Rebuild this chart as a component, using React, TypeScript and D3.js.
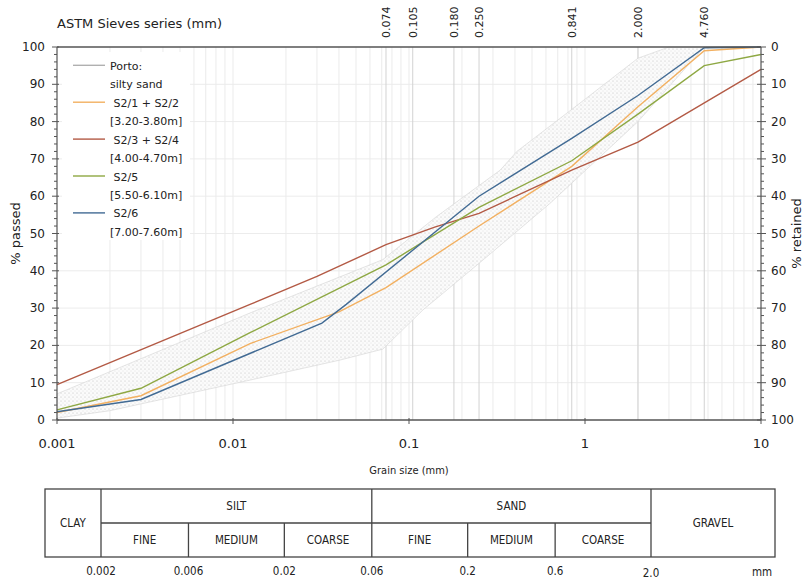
import React from "react";
import * as d3 from "d3";

// ---------- data ----------
const sieveSizes = [0.074, 0.105, 0.18, 0.25, 0.841, 2.0, 4.76];
const sieveLabels = ["0.074", "0.105", "0.180", "0.250", "0.841", "2.000", "4.760"];
const xTickValues = [0.001, 0.01, 0.1, 1, 10];
const xTickLabels = ["0.001", "0.01", "0.1", "1", "10"];
const yTickValues = [0, 10, 20, 30, 40, 50, 60, 70, 80, 90, 100];

const s21Sizes = [0.001, 0.003, 0.0125, 0.04, 0.074, 0.25, 0.841, 2.0, 4.76, 10];
const s21Passed = [2, 6.5, 20.5, 29, 35.5, 52, 68, 84, 99, 100];

const s23Sizes = [0.001, 0.0125, 0.03, 0.074, 0.14, 0.25, 0.841, 2.0, 10];
const s23Passed = [9.5, 31, 38.5, 47, 51.7, 55.4, 67, 74.5, 94];

const s25Sizes = [0.001, 0.003, 0.0125, 0.074, 0.25, 0.841, 2.0, 4.76, 10];
const s25Passed = [2.7, 8.5, 23.4, 41.6, 57, 69.5, 82, 95, 98];

const s26Sizes = [0.001, 0.003, 0.032, 0.044, 0.25, 0.841, 2.0, 4.76, 10];
const s26Passed = [2.2, 5.5, 26, 31, 60, 75.5, 87, 99.8, 100];

const portoUpperSizes = [0.001, 0.0125, 0.071, 0.143, 0.33, 0.41, 1, 2, 3, 10];
const portoUpperPassed = [7, 28.7, 43, 54.5, 67, 72, 86, 97, 100, 100];
const portoLowerSizes = [0.001, 0.002, 0.0125, 0.04, 0.071, 0.12, 0.25, 0.63, 2, 4.76, 10];
const portoLowerPassed = [0.5, 2.5, 10.7, 16, 19, 29.5, 42, 58, 80, 100, 100];

const legendLabels = [
  ["Porto:", "silty sand"],
  [" S2/1 + S2/2", "[3.20-3.80m]"],
  [" S2/3 + S2/4", "[4.00-4.70m]"],
  [" S2/5", "[5.50-6.10m]"],
  [" S2/6", "[7.00-7.60m]"],
];
const seriesColors = ["#b0b0b0", "#f2b061", "#b35a45", "#8ea843", "#426b94"];

const tableBounds = [0.002, 0.006, 0.02, 0.06, 0.2, 0.6, 2.0];
const tableBoundLabels = ["0.002", "0.006", "0.02", "0.06", "0.2", "0.6", "2.0"];
const subLabels = ["FINE", "MEDIUM", "COARSE", "FINE", "MEDIUM", "COARSE"];

// ---------- layout ----------
const W = 808;
const H = 580;
const X0 = 57, X1 = 761, Y0 = 420, Y1 = 47;
const FONT = "'DejaVu Sans', Verdana, sans-serif";
const FONT_C = "'DejaVu Sans Condensed', 'Liberation Sans Narrow', 'DejaVu Sans', sans-serif";

export default function App() {
  const x = d3.scaleLog().domain([0.001, 10]).range([X0, X1]);
  const y = d3.scaleLinear().domain([0, 100]).range([Y0, Y1]);
  const xt = d3.scaleLog().domain([0.002, 2]).range([101, 651]);

  const line = d3
    .line<[number, number]>()
    .x((d) => x(d[0]))
    .y((d) => y(d[1]));

  const zip = (a: number[], b: number[]) => a.map((v, i) => [v, b[i]] as [number, number]);
  const series = [
    zip(s21Sizes, s21Passed),
    zip(s23Sizes, s23Passed),
    zip(s25Sizes, s25Passed),
    zip(s26Sizes, s26Passed),
  ];
  const upper = zip(portoUpperSizes, portoUpperPassed);
  const lower = zip(portoLowerSizes, portoLowerPassed);
  const band = line([...upper, ...lower.slice().reverse()]) + "Z";

  const minor: number[] = [];
  for (let e = -3; e < 1; e++) {
    for (let m = 1; m <= 9; m++) {
      const v = m * Math.pow(10, e);
      if (v > 0.001 && v < 10) minor.push(v);
    }
  }
  const minorY = d3.range(0, 101, 2);

  const tTop = 489, tMid = 523, tBot = 557, tL = 45, tR = 775;

  return (
    <svg
      width={W}
      height={H}
      style={{ position: "absolute", left: 0, top: 0, display: "block", background: "#fff" }}
    >
      <defs>
        <pattern id="stip" width="4" height="4" patternUnits="userSpaceOnUse">
          <rect width="4" height="4" fill="#fbfbfb" />
          <circle cx="1" cy="1" r="0.5" fill="#b4b4b4" />
          <circle cx="3" cy="3" r="0.45" fill="#c8c8c8" />
        </pattern>
      </defs>

      <text x={57} y={28} fontFamily={FONT} fontSize={13} fill="#222">
        ASTM Sieves series (mm)
      </text>

      {yTickValues.slice(1, -1).map((v) => (
        <line key={"hg" + v} x1={X0} x2={X1} y1={y(v)} y2={y(v)} stroke="#ececec" strokeWidth={1} />
      ))}
      {minor.map((v, i) => (
        <line key={"vg" + i} x1={x(v)} x2={x(v)} y1={Y1} y2={Y0} stroke="#ebebeb" strokeWidth={1} />
      ))}
      {sieveSizes.map((v, i) => (
        <line key={"sv" + i} x1={x(v)} x2={x(v)} y1={Y1} y2={Y0} stroke="#d2d2d2" strokeWidth={1} />
      ))}

      <path d={band} fill="url(#stip)" stroke="#d4d4d4" strokeWidth={0.6} />

      {series.map((s, i) => (
        <path key={"s" + i} d={line(s) || ""} fill="none" stroke={seriesColors[i + 1]} strokeWidth={1.4} />
      ))}

      <rect x={62} y={52} width={128} height={188} fill="#fff" />
      {legendLabels.map((lab, i) => {
        const cy = 65.3 + i * 36.9;
        return (
          <g key={"lg" + i}>
            <line x1={73} x2={105} y1={cy} y2={cy} stroke={seriesColors[i]} strokeWidth={1.4} />
            <text x={110} y={cy + 4.5} fontFamily={FONT} fontSize={11} fill="#222" style={{ whiteSpace: "pre" }}>
              {lab[0]}
            </text>
            <text x={110} y={cy + 18.4 + 4.5} fontFamily={FONT} fontSize={11} fill="#222">
              {lab[1]}
            </text>
          </g>
        );
      })}

      <line x1={X0} x2={X1} y1={Y1} y2={Y1} stroke="#555" strokeWidth={1.5} />
      <line x1={X0} x2={X1} y1={Y0} y2={Y0} stroke="#555" strokeWidth={1.5} />
      <line x1={X0} x2={X0} y1={Y1} y2={Y0} stroke="#555" strokeWidth={1.2} />
      <line x1={X1} x2={X1} y1={Y1} y2={Y0} stroke="#555" strokeWidth={1.2} />

      {minorY.map((v) => (
        <line
          key={"lt" + v}
          x1={v % 10 === 0 ? X0 - 5 : X0 - 3}
          x2={v % 10 === 0 ? X0 + 2 : X0}
          y1={y(v)}
          y2={y(v)}
          stroke="#555"
          strokeWidth={1}
        />
      ))}
      {yTickValues.map((v) => (
        <text key={"ll" + v} x={45} y={y(v) + 4} textAnchor="end" fontFamily={FONT} fontSize={12} fill="#222">
          {v}
        </text>
      ))}
      <text
        transform={`translate(20,${(Y0 + Y1) / 2}) rotate(-90)`}
        textAnchor="middle"
        fontFamily={FONT}
        fontSize={13}
        fill="#222"
      >
        % passed
      </text>

      {minorY.map((v) => (
        <line
          key={"rt" + v}
          x1={v % 10 === 0 ? X1 - 4 : X1}
          x2={v % 10 === 0 ? X1 + 5 : X1 + 3}
          y1={y(v)}
          y2={y(v)}
          stroke="#555"
          strokeWidth={1}
        />
      ))}
      {yTickValues.map((v) => (
        <text key={"rl" + v} x={771} y={y(100 - v) + 4} fontFamily={FONT} fontSize={12} fill="#222">
          {v}
        </text>
      ))}
      <text
        transform={`translate(801,${(Y0 + Y1) / 2}) rotate(-90)`}
        textAnchor="middle"
        fontFamily={FONT}
        fontSize={13}
        fill="#222"
      >
        % retained
      </text>

      {xTickValues.map((v, i) => (
        <g key={"bt" + i}>
          <line x1={x(v)} x2={x(v)} y1={Y0 - 2} y2={Y0 + 4} stroke="#555" strokeWidth={1} />
          <text x={x(v)} y={448} textAnchor="middle" fontFamily={FONT} fontSize={13} fill="#222">
            {xTickLabels[i]}
          </text>
        </g>
      ))}
      <text x={(X0 + X1) / 2} y={474} textAnchor="middle" fontFamily={FONT_C} fontSize={11} fill="#222">
        Grain size (mm)
      </text>

      {sieveSizes.map((v, i) => (
        <text
          key={"tl" + i}
          transform={`translate(${x(v)},38) rotate(-90)`}
          dy="0.35em"
          fontFamily={FONT}
          fontSize={11}
          fill="#222"
        >
          {sieveLabels[i]}
        </text>
      ))}

      <g stroke="#444" strokeWidth={1.3} fill="none">
        <rect x={tL} y={tTop} width={tR - tL} height={tBot - tTop} />
        {[0.002, 0.06, 2.0].map((v, i) => (
          <line key={"tf" + i} x1={xt(v)} x2={xt(v)} y1={tTop} y2={tBot} />
        ))}
        {[0.006, 0.02, 0.2, 0.6].map((v, i) => (
          <line key={"tp" + i} x1={xt(v)} x2={xt(v)} y1={tMid} y2={tBot} />
        ))}
        <line x1={xt(0.002)} x2={xt(2.0)} y1={tMid} y2={tMid} />
      </g>
      <g fontFamily={FONT_C} fontSize={11.5} fill="#222" textAnchor="middle">
        <text x={(tL + xt(0.002)) / 2} y={(tTop + tBot) / 2 + 4}>CLAY</text>
        <text x={(xt(0.002) + xt(0.06)) / 2} y={(tTop + tMid) / 2 + 4}>SILT</text>
        <text x={(xt(0.06) + xt(2.0)) / 2} y={(tTop + tMid) / 2 + 4}>SAND</text>
        <text x={(xt(2.0) + tR) / 2} y={(tTop + tBot) / 2 + 4}>GRAVEL</text>
        {subLabels.map((s, i) => (
          <text key={"sl" + i} x={(xt(tableBounds[i]) + xt(tableBounds[i + 1])) / 2} y={(tMid + tBot) / 2 + 4}>
            {s}
          </text>
        ))}
        {tableBoundLabels.map((s, i) => (
          <text key={"bl" + i} x={xt(tableBounds[i])} y={i === 6 ? 577 : 575}>
            {s}
          </text>
        ))}
        <text x={762} y={576}>mm</text>
      </g>
    </svg>
  );
}
